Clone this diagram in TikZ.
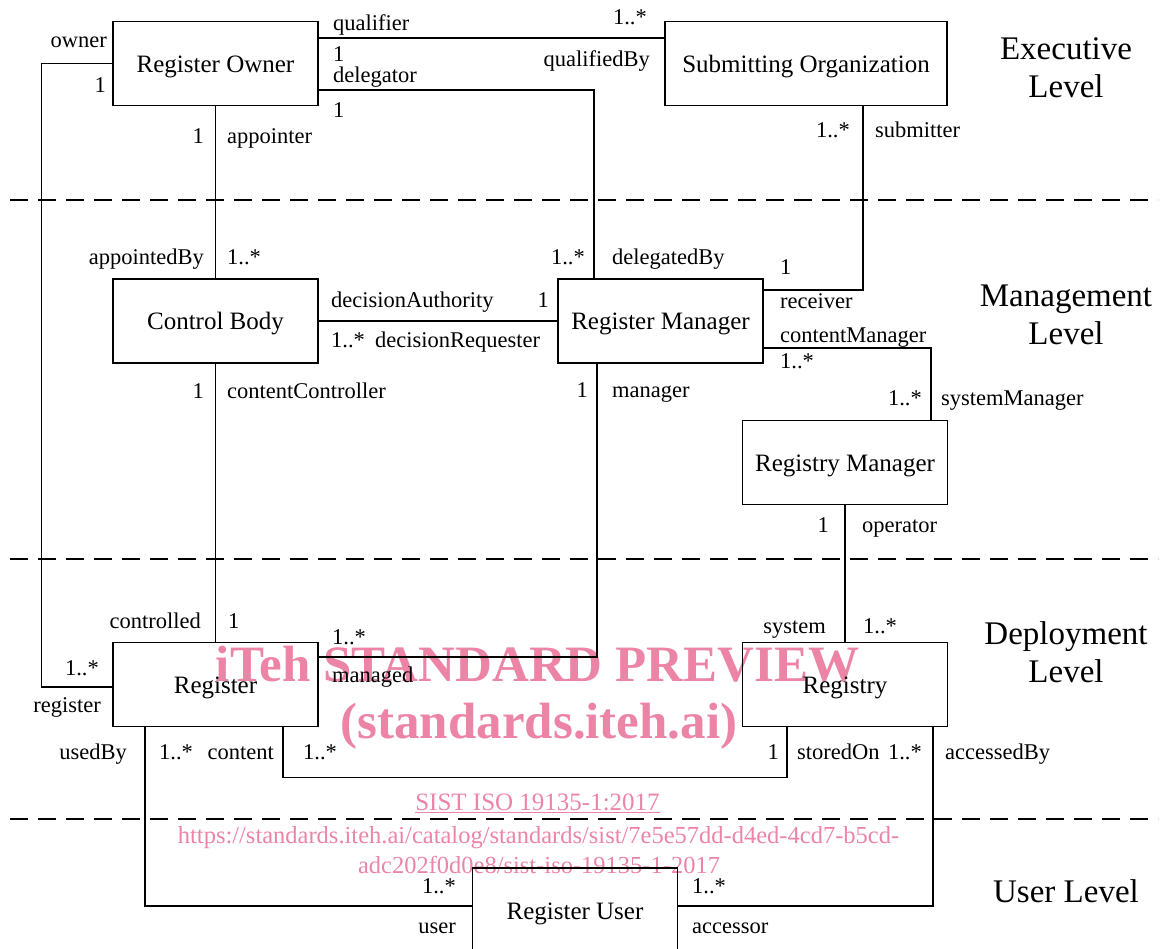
\documentclass[tikz,border=0pt]{standalone}
\usepackage{fontspec}
\setmainfont{Liberation Serif}
\definecolor{wmpink}{RGB}{236,132,166}
\tikzset{
  cls/.style={draw, line width=1.2pt, minimum width=205pt, minimum height=84pt, inner sep=0pt, text height=18pt, text depth=0pt, font=\fontsize{25}{30}\selectfont},
  lbl/.style={inner sep=0pt, font=\fontsize{22.5}{27}\selectfont},
  lvl/.style={inner sep=0pt, align=center, font=\fontsize{33}{38}\selectfont},
  assoc/.style={line width=1.2pt},
  levelsep/.style={line width=2pt, dash pattern=on 18pt off 10pt},
  wm/.style={inner sep=0pt, text=wmpink}
}
\begin{document}
\begin{tikzpicture}[x=1pt,y=-1pt]
\useasboundingbox (0,0) rectangle (1164,949);
\clip (0,0) rectangle (1164,949);

\node[wm, anchor=base, font=\fontsize{51}{60}\selectfont\bfseries] (wmtitle) at (537.5,681) {iTeh STANDARD PREVIEW};
\node[wm, anchor=base, font=\fontsize{51}{60}\selectfont\bfseries] (wmsite) at (539,738) {(standards.iteh.ai)};
\node[wm, anchor=base, font=\fontsize{25}{30}\selectfont] (wmstd) at (537.5,810) {\underline{SIST ISO 19135-1:2017}};
\node[wm, anchor=base, font=\fontsize{24.5}{29}\selectfont] (wmurla) at (538.5,843) {https://standards.iteh.ai/catalog/standards/sist/7e5e57dd-d4ed-4cd7-b5cd-};
\node[wm, anchor=base, font=\fontsize{24.5}{29}\selectfont] (wmurlb) at (539,873) {adc202f0d0e8/sist-iso-19135-1-2017};

\draw[levelsep] (10,200) -- (1158,200);
\draw[levelsep] (10,559) -- (1158,559);
\draw[levelsep] (10,819) -- (1158,819);

\node[lvl] (executive) at (1066,68) {Executive\\Level};
\node[lvl] (management) at (1066,315) {Management\\Level};
\node[lvl] (deployment) at (1066,652.5) {Deployment\\Level};
\node[lvl, anchor=base] (userlevel) at (1066,902) {User Level};

\node[cls] (owner) at (215.5,63.5) {Register Owner};
\node[cls, minimum width=282pt] (subm) at (806,63.5) {Submitting Organization};
\node[cls] (ctrl) at (215.5,321) {Control Body};
\node[cls] (rman) at (660.5,321) {Register Manager};
\node[cls] (rgm) at (845,462.5) {Registry Manager};
\node[cls] (reg) at (215.5,684.5) {Register};
\node[cls] (rgy) at (845,684.5) {Registry};
\node[cls] (user) at (575,910) {Register User};

\draw[assoc] (owner.east |- 0,38) -- (subm.west |- 0,38);
\draw[assoc] (owner.east |- 0,90) -| (rman.north -| 594,0);
\draw[assoc] (owner.south) -- (ctrl.north);
\draw[assoc] (owner.west) -- ++(-71,0) |- (reg.west |- 0,687);
\draw[assoc] (subm.south -| 863,0) |- (rman.east |- 0,290);
\draw[assoc] (ctrl.east) -- (rman.west);
\draw[assoc] (ctrl.south) -- (reg.north);
\draw[assoc] (rman.south -| 597,0) |- (reg.east |- 0,657);
\draw[assoc] (rman.east |- 0,348) -| (rgm.north -| 931,0);
\draw[assoc] (rgm.south) -- (rgy.north);
\draw[assoc] (reg.south -| 283,0) -- ++(0,50) -| (rgy.south -| 787,0);
\draw[assoc] (reg.south -| 145,0) |- (user.west |- 0,906);
\draw[assoc] (rgy.south -| 933,0) |- (user.east |- 0,906);

\node[lbl, anchor=base east] (owner-r) at (107,48) {owner};
\node[lbl, anchor=base east] (owner-m) at (106,93) {1};
\node[lbl, anchor=base west] (qualifier-r) at (333,31) {qualifier};
\node[lbl, anchor=base west] (qualifier-m) at (333,62) {1};
\node[lbl, anchor=base east] (qualified-m) at (647,25) {1..*};
\node[lbl, anchor=base east] (qualified-r) at (650,67) {qualifiedBy};
\node[lbl, anchor=base west] (delegator-r) at (333,83) {delegator};
\node[lbl, anchor=base west] (delegator-m) at (333,118) {1};
\node[lbl, anchor=base east] (appointer-m) at (204,144) {1};
\node[lbl, anchor=base west] (appointer-r) at (227,144) {appointer};
\node[lbl, anchor=base east] (submitter-m) at (850,138) {1..*};
\node[lbl, anchor=base west] (submitter-r) at (875,138) {submitter};

\node[lbl, anchor=base east] (appointed-r) at (204,265) {appointedBy};
\node[lbl, anchor=base west] (appointed-m) at (227,265) {1..*};
\node[lbl, anchor=base east] (delegated-m) at (585,265) {1..*};
\node[lbl, anchor=base west] (delegated-r) at (612,265) {delegatedBy};
\node[lbl, anchor=base west] (receiver-m) at (780,275) {1};
\node[lbl, anchor=base west] (receiver-r) at (780,309) {receiver};
\node[lbl, anchor=base west] (authority-r) at (331,308) {decisionAuthority};
\node[lbl, anchor=base east] (authority-m) at (549,308) {1};
\node[lbl, anchor=base west] (requester-m) at (331,348) {1..*};
\node[lbl, anchor=base west] (requester-r) at (375,348) {decisionRequester};
\node[lbl, anchor=base west] (cmanager-r) at (780,342) {contentManager};
\node[lbl, anchor=base west] (cmanager-m) at (780,368) {1..*};
\node[lbl, anchor=base east] (controller-m) at (204,398) {1};
\node[lbl, anchor=base west] (controller-r) at (227,398) {contentController};
\node[lbl, anchor=base east] (manager-m) at (588,397) {1};
\node[lbl, anchor=base west] (manager-r) at (612,397) {manager};
\node[lbl, anchor=base east] (smanager-m) at (922,405) {1..*};
\node[lbl, anchor=base west] (smanager-r) at (941,405) {systemManager};
\node[lbl, anchor=base east] (operator-m) at (829,532) {1};
\node[lbl, anchor=base west] (operator-r) at (862,532) {operator};

\node[lbl, anchor=base east] (controlled-r) at (201,628) {controlled};
\node[lbl, anchor=base west] (controlled-m) at (228,628) {1};
\node[lbl, anchor=base east] (register-m) at (99,675) {1..*};
\node[lbl, anchor=base east] (register-r) at (101,712) {register};
\node[lbl, anchor=base west] (managed-m) at (332,644) {1..*};
\node[lbl, anchor=base west] (managed-r) at (332,682) {managed};
\node[lbl, anchor=base east] (system-r) at (826,633) {system};
\node[lbl, anchor=base west] (system-m) at (863,633) {1..*};
\node[lbl, anchor=base east] (usedby-r) at (127,759) {usedBy};
\node[lbl, anchor=base west] (usedby-m) at (159,759) {1..*};
\node[lbl, anchor=base east] (content-r) at (274,759) {content};
\node[lbl, anchor=base west] (content-m) at (303,759) {1..*};
\node[lbl, anchor=base east] (storedon-m) at (779,759) {1};
\node[lbl, anchor=base west] (storedon-r) at (797,759) {storedOn};
\node[lbl, anchor=base east] (accessedby-m) at (922,759) {1..*};
\node[lbl, anchor=base west] (accessedby-r) at (945,759) {accessedBy};
\node[lbl, anchor=base east] (user-m) at (456,893) {1..*};
\node[lbl, anchor=base east] (user-r) at (456,933) {user};
\node[lbl, anchor=base west] (accessor-m) at (692,893) {1..*};
\node[lbl, anchor=base west] (accessor-r) at (692,933) {accessor};
\end{tikzpicture}
\end{document}
